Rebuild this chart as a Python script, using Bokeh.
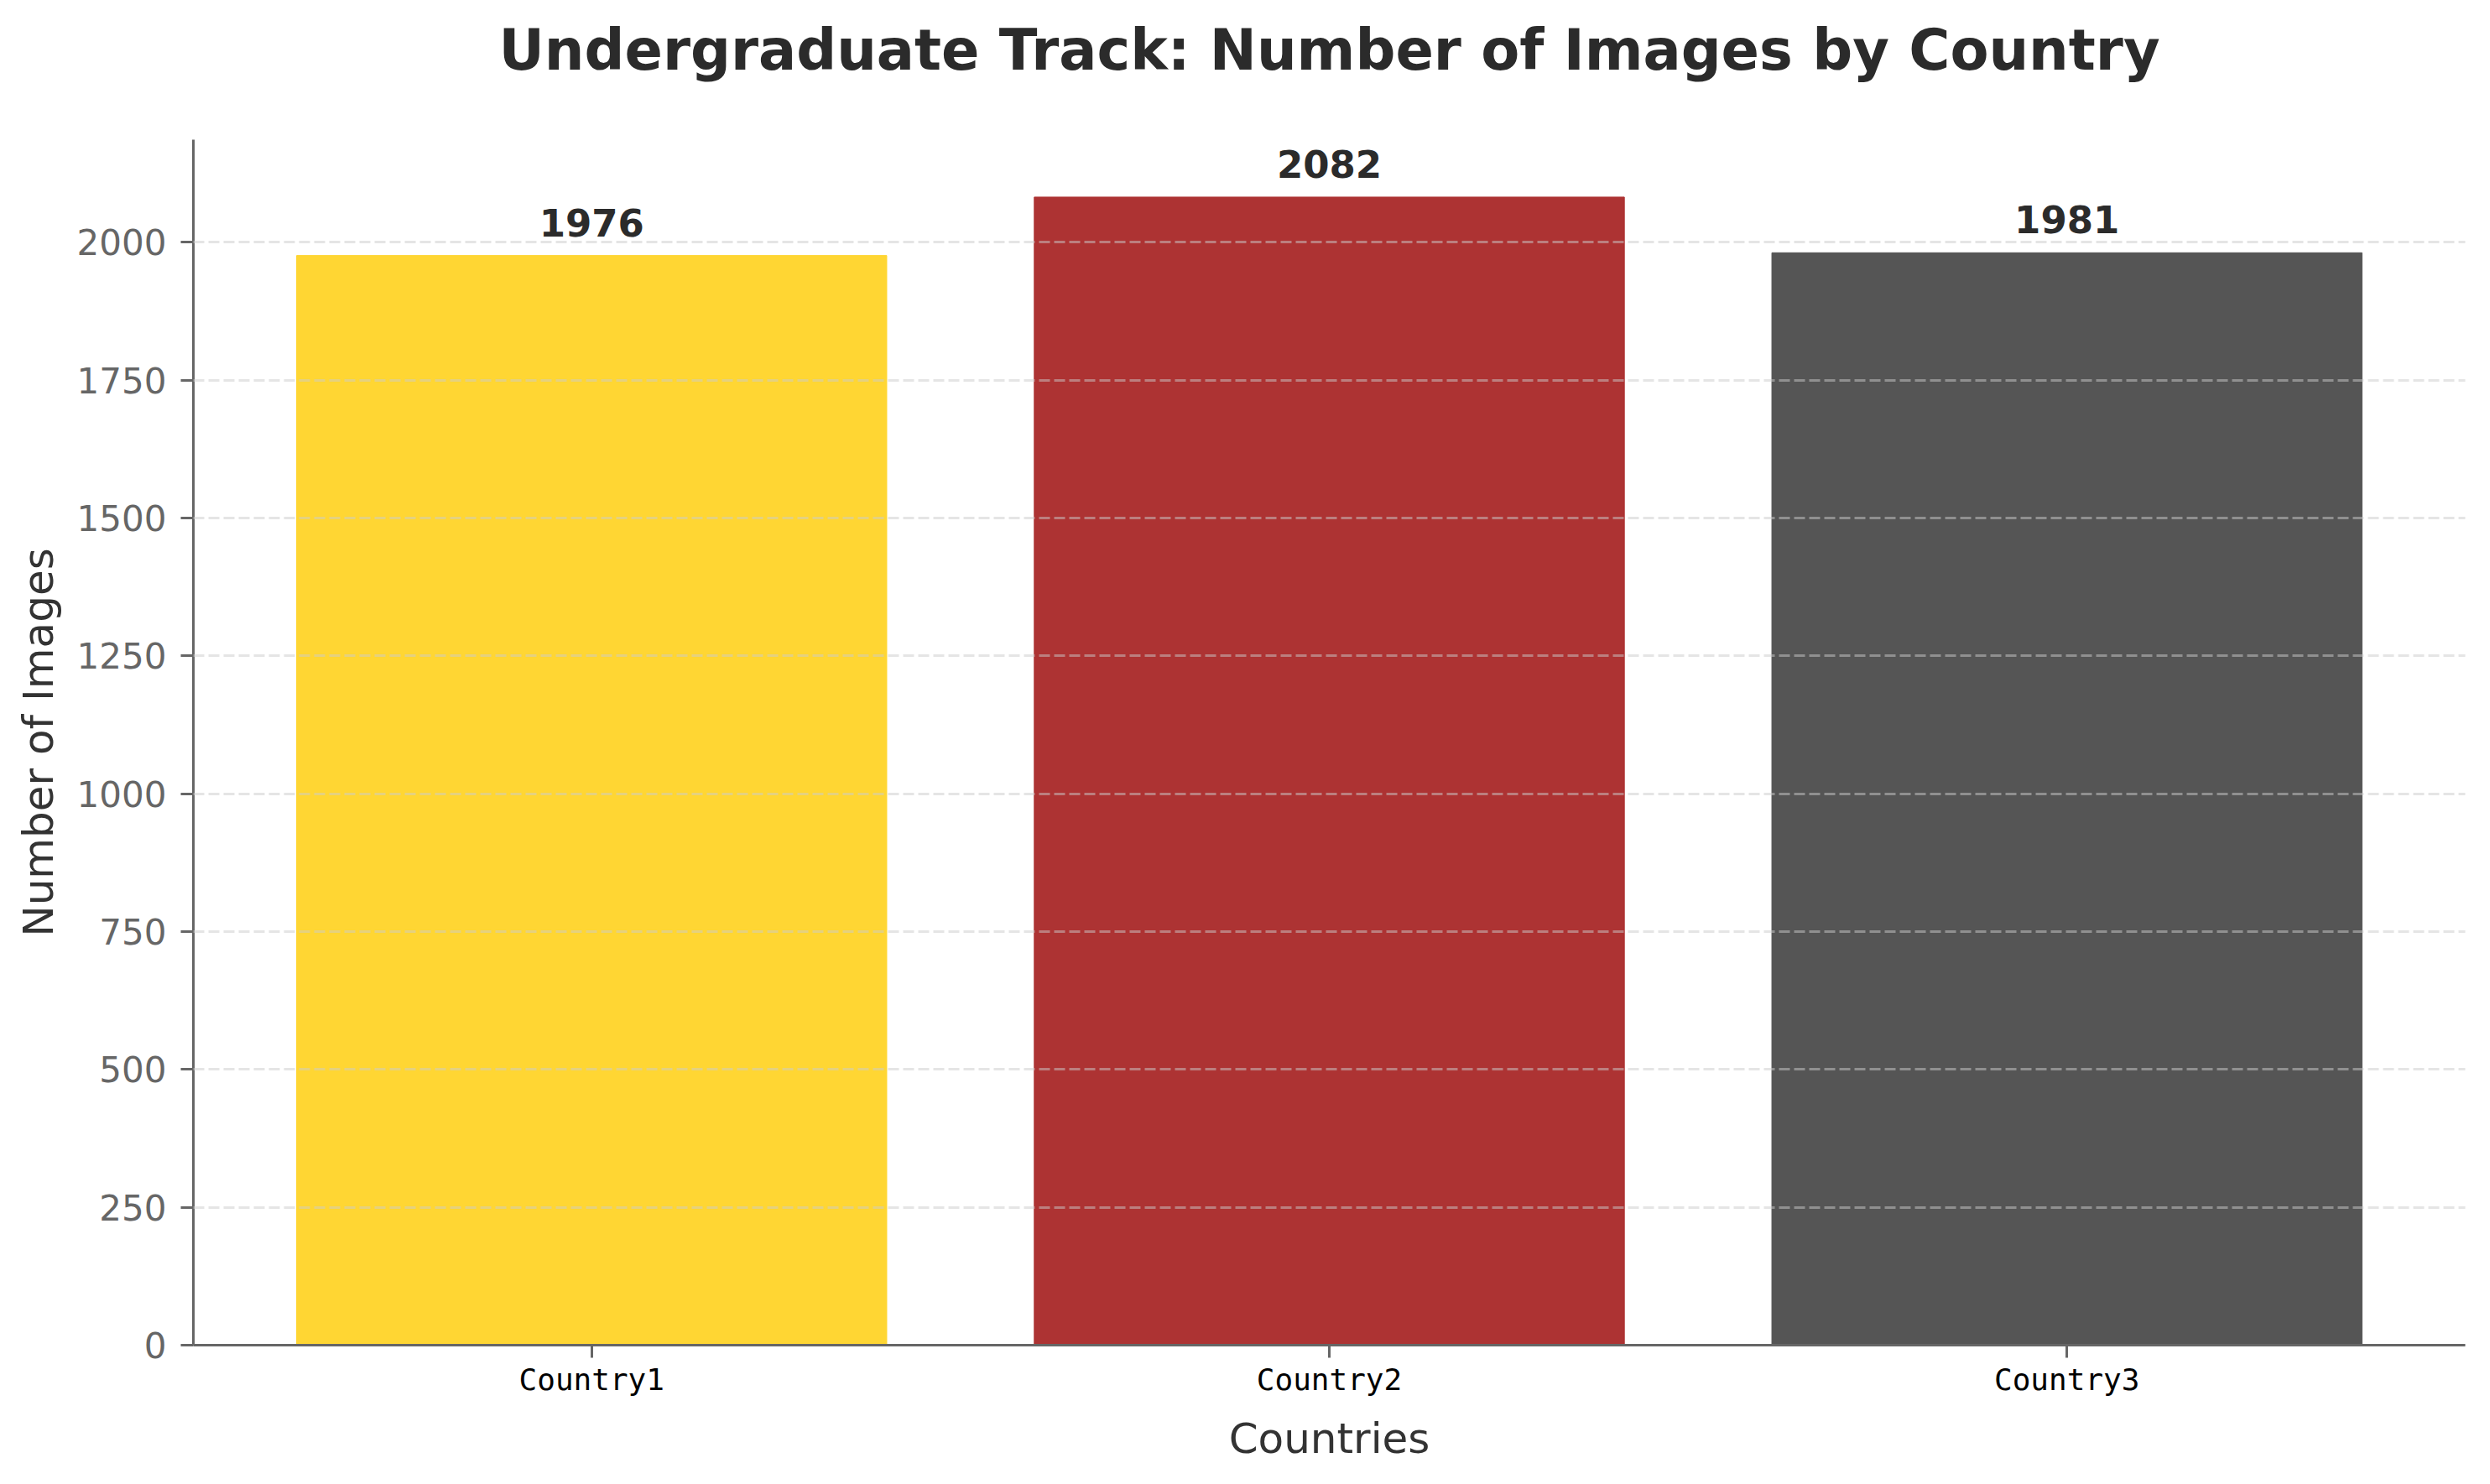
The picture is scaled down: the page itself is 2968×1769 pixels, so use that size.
from bokeh.plotting import figure
from bokeh.models import (ColumnDataSource, FactorRange, Range1d, SingleIntervalTicker,
                          FixedTicker, LabelSet)
from bokeh.core.properties import value
from bokeh.embed import file_html
from bokeh.resources import INLINE

# data
countries = ["Country1", "Country2", "Country3"]
images = [1976, 2082, 1981]
colors = ["#FFD633", "#AD3333", "#555555"]
y_ticks = [250, 500, 750, 1000, 1250, 1500, 1750, 2000]

src = ColumnDataSource(dict(country=countries, n=images, color=colors,
                            lbl=[str(v) for v in images]))

p = figure(x_range=FactorRange(factors=countries, range_padding=0.04,
                               range_padding_units="absolute"),
           y_range=Range1d(0, max(images) * 1.05),
           width=2952, height=1753, output_backend="svg", toolbar_location=None,
           min_border_left=230, min_border_right=14,
           min_border_top=166, min_border_bottom=150,
           title="Undergraduate Track: Number of Images by Country")
p.outline_line_color = None

p.title.align = "center"
p.title.text_font = "DejaVu Sans"
p.title.text_font_size = "67px"
p.title.text_font_style = "bold"
p.title.text_color = "#2b2b2b"
p.title.standoff = 0
p.title.padding = dict(left=0, right=0, top=14, bottom=68)

p.vbar(x="country", top="n", width=0.8, color="color", source=src)
p.add_layout(LabelSet(x="country", y="n", text="lbl", source=src,
                      text_align="center", text_baseline="alphabetic", y_offset=23,
                      text_font=value("DejaVu Sans"), text_font_style="bold",
                      text_font_size="45px", text_color="#2b2b2b"))

# grid
p.xgrid.grid_line_color = None
p.ygrid.ticker = FixedTicker(ticks=y_ticks)
p.ygrid.grid_line_color = "#cccccc"
p.ygrid.grid_line_alpha = 0.5
p.ygrid.grid_line_dash = "13 5"
p.ygrid.grid_line_width = 3
p.ygrid.level = "overlay"

# axes
for ax in (p.xaxis[0], p.yaxis[0]):
    ax.axis_line_color = "#666666"
    ax.axis_line_width = 3
    ax.major_tick_line_color = "#666666"
    ax.major_tick_line_width = 3
    ax.major_tick_out = 15
    ax.major_tick_in = 0
    ax.minor_tick_line_color = None
    ax.axis_label_text_font = "DejaVu Sans"
    ax.axis_label_text_font_size = "50px"
    ax.axis_label_text_font_style = "normal"
    ax.axis_label_text_color = "#333333"

p.xaxis.axis_label = "Countries"
p.xaxis.major_label_text_font = "DejaVu Sans Mono"
p.xaxis.major_label_text_font_size = "36px"
p.xaxis.major_label_text_color = "#000000"
p.xaxis.major_label_standoff = 5
p.xaxis.axis_label_standoff = 18

p.yaxis.axis_label = "Number of Images"
p.yaxis.ticker = SingleIntervalTicker(interval=250, num_minor_ticks=0)
p.yaxis.major_label_text_font = "DejaVu Sans"
p.yaxis.major_label_text_font_size = "42px"
p.yaxis.major_label_text_color = "#666666"
p.yaxis.major_label_standoff = 17
p.yaxis.axis_label_standoff = 14

open("out.html", "w").write(file_html(p, INLINE))
